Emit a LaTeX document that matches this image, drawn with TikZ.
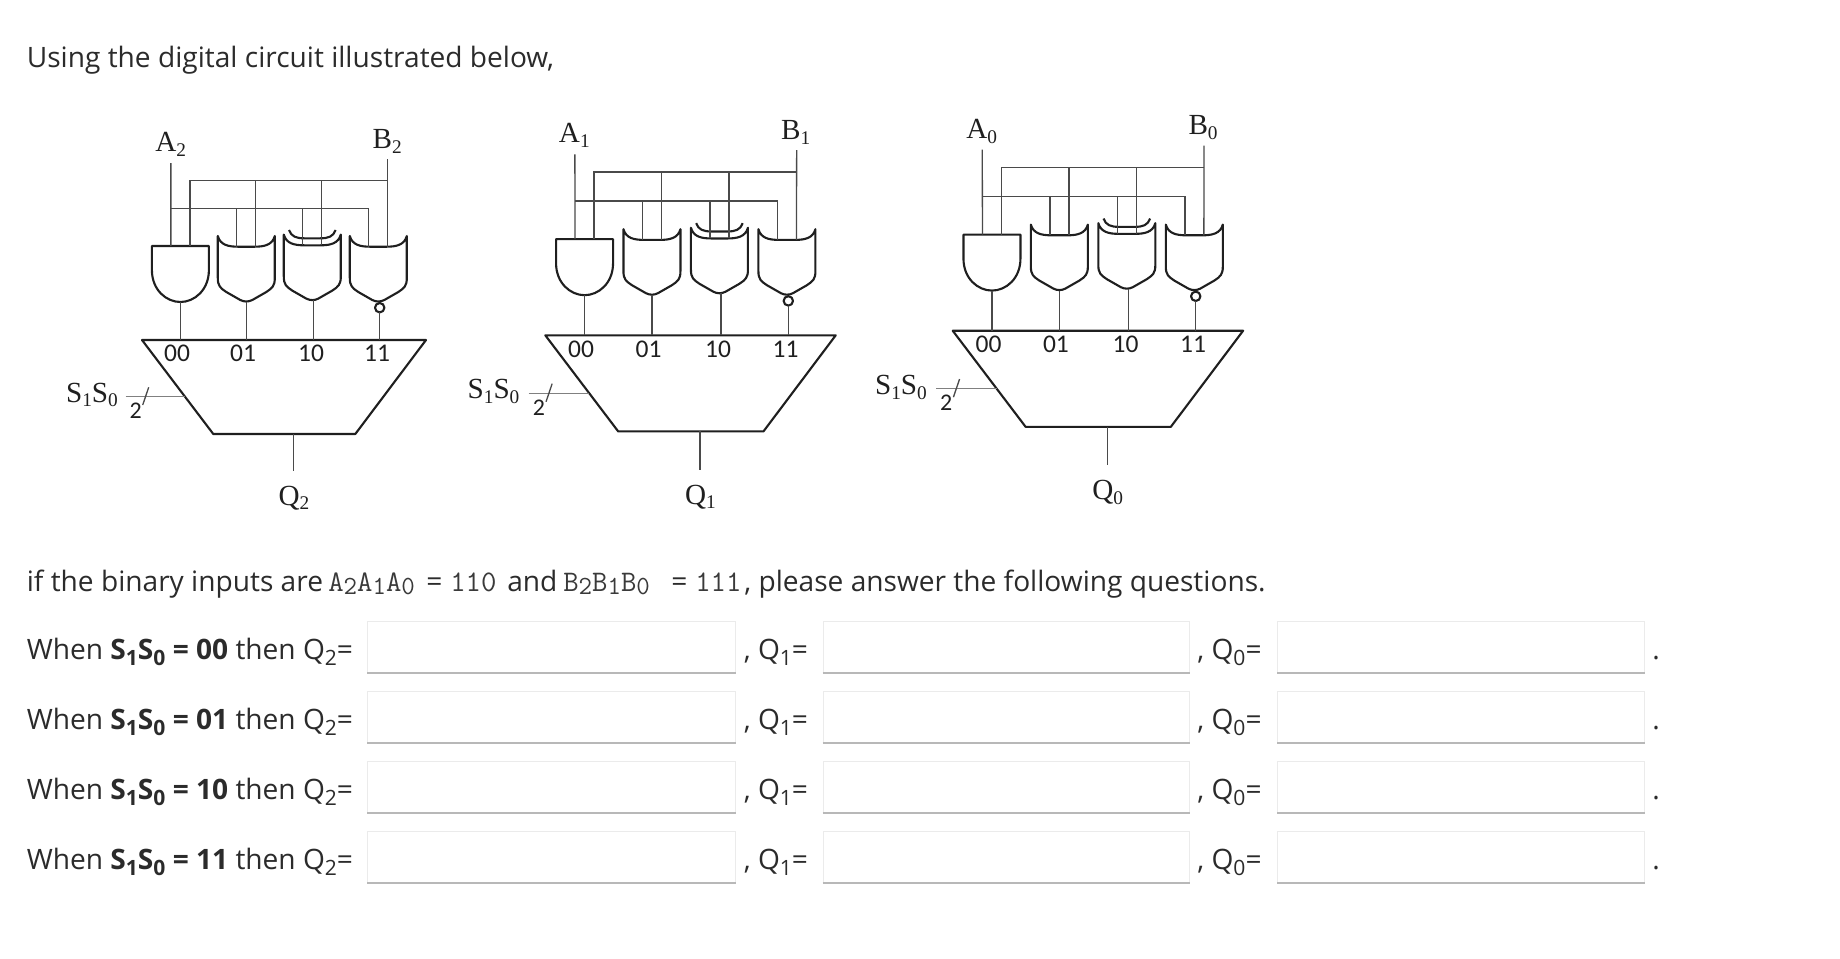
\documentclass[tikz,border=0pt]{standalone}
\usepackage{fontspec}
\setmainfont{Open Sans}
\newfontfamily\labelfont{Liberation Serif}
\newfontfamily\muxfont{Carlito}
\definecolor{inktext}{HTML}{2B2B2B}
\definecolor{wirecol}{HTML}{4A4A4A}
\definecolor{gatecol}{HTML}{1F1F1F}
\definecolor{monocol}{HTML}{3A3A3A}
\newcommand{\lo}[1]{\raisebox{-2.8pt}{\fontsize{11}{11}\selectfont #1}}
\newcommand{\lom}[1]{\raisebox{-2.2pt}{\fontsize{14.9}{15}\selectfont #1}}
\newcommand{\los}[1]{\raisebox{-0.45ex}{\fontsize{12}{12}\selectfont #1}}
\newcommand{\orbody}{
        \draw [gateline] (-28.5,-10) .. controls (-26,-1) and (-18,0.7) .. (-8,0.7) -- (8,0.7) .. controls (18,0.7) and (26,-1) .. (28.5,-10) -- (28.5,32) .. controls (28.5,40) and (26,42) .. (20,46) -- (6,54) .. controls (2,56) and (-2,56) .. (-6,54) -- (-20,46) .. controls (-26,42) and (-28.5,40) .. (-28.5,32) -- cycle;
        \coordinate (-ina) at (-9.5,0.7);
        \coordinate (-inb) at (9.5,0.7);
}
\tikzset{
        wire/.style = {draw=wirecol, line width=0.75pt},
        gateline/.style = {draw=gatecol, line width=1.2pt, line join=round},
        selwire/.style = {draw=gray, line width=0.8pt},
        sig/.style = {font=\labelfont\fontsize{16.6}{18}\selectfont, text=gatecol, inner sep=0pt, anchor=base west},
        sel/.style = {font=\muxfont\fontsize{14.5}{16}\selectfont, text=gatecol, inner sep=0pt, anchor=base},
        body/.style = {font=\fontsize{16}{20}\selectfont, text=inktext, inner sep=0pt, anchor=base west},
        mono/.style = {font=\ttfamily\fontsize{17}{18}\selectfont, text=monocol, inner sep=0pt, anchor=base west},
        ansbox/.style = {draw=black!8, fill=white, line width=0.6pt, anchor=north west, inner sep=0pt, minimum height=1.014cm},
        ansline/.style = {draw=black!28, line width=1pt},
        pics/andgate/.style = {code={
                \draw [gateline] (-28.5,0) -- (28.5,0) -- (28.5,24) .. controls (28.5,44) and (14,56) .. (0,56) .. controls (-14,56) and (-28.5,44) .. (-28.5,24) -- cycle;
                \coordinate (-ina) at (-9.5,0);
                \coordinate (-inb) at (9.5,0);
                \coordinate (-out) at (0,56);
        }},
        pics/orgate/.style = {code={
                \orbody
                \coordinate (-out) at (0,56);
        }},
        pics/xorgate/.style = {code={
                \orbody
                \draw [gateline] (-23.3,-14.6) .. controls (-21,-8) and (-16,-6.3) .. (-8,-6.3) -- (8,-6.3) .. controls (16,-6.3) and (21,-8) .. (23.3,-14.6);
                \coordinate (-out) at (1.4,55.4);
        }},
        pics/norgate/.style = {code={
                \orbody
                \draw [gateline] (1.4,61.7) circle [radius=4.7];
                \coordinate (-out) at (1.4,66.4);
        }}
}

\begin{document}
\begin{tikzpicture}[x=0.02cm, y=-0.02cm]

        \useasboundingbox (0,0) rectangle (1840,958);

        % Heading
        \node [body] (intro) at (26.5,67.5) {Using the digital circuit illustrated below,};

        % Circuits
        \foreach \cx/\cy/\cs/\bit in {142/340/1/2, 545.3/335.3/1.0225/1, 952.7/330.7/1.0225/0} {
        \begin{scope}[shift={(\cx,\cy)}, scale=\cs]

                % Gates
                \pic (gand) at (38.4,-94) {andgate};
                \pic (gor) at (104.3,-94) {orgate};
                \pic (gxor) at (170.3,-95.4) {xorgate};
                \pic (gnor) at (236.3,-94) {norgate};

                % Mux
                \coordinate (mtl) at (0,0);
                \coordinate (mtr) at (284,0);
                \coordinate (mbr) at (213.3,94);
                \coordinate (mbl) at (71.3,94);
                \draw [gateline] (mtl) -- (mtr) -- (mbr) -- (mbl) -- cycle;
                \node [sel] (s00) at (35,21.7) {00};
                \node [sel] (s01) at (101,21.7) {01};
                \node [sel] (s10) at (169,21.7) {10};
                \node [sel] (s11) at (235,21.7) {11};

                % Inputs
                \node [sig] (a) at (13,-188.3) {A\lo{\bit}};
                \node [sig] (b) at (230.3,-191.7) {B\lo{\bit}};
                \coordinate (atop) at (28.9,-177);
                \coordinate (btop) at (245.8,-181);
                \coordinate (abus) at (28.9,-131.3);
                \coordinate (bbus) at (245.8,-159.7);
                \draw [wire] (atop) -- (gand-ina);
                \draw [wire] (btop) -- (gnor-inb);
                \draw [wire] (abus) -| (gnor-ina);
                \draw [wire] (bbus) -| (gand-inb);
                \draw [wire] (gor-ina |- abus) -- (gor-ina);
                \draw [wire] (gor-inb |- bbus) -- (gor-inb);
                \draw [wire] (gxor-ina |- abus) -- (gxor-ina);
                \draw [wire] (gxor-inb |- bbus) -- (gxor-inb);

                % Gate outputs
                \draw [wire] (gand-out) -- (gand-out |- mtl);
                \draw [wire] (gor-out) -- (gor-out |- mtl);
                \draw [wire] (gxor-out) -- (gxor-out |- mtl);
                \draw [wire] (gnor-out) -- (gnor-out |- mtl);

                % Select
                \node [sig] (s) at (-76.3,62) {S\lo{1}S\lo{0}};
                \coordinate (selin) at (-16.3,56.7);
                \coordinate (selend) at (43,56.7);
                \coordinate (tickb) at (0.7,65);
                \coordinate (ticka) at (6.7,47.3);
                \draw [selwire] (selin) -- (selend);
                \draw [wire] (tickb) -- (ticka);
                \node [sel, font=\muxfont\fontsize{13.6}{16}\selectfont] (two) at (-6.3,78) {2};

                % Output
                \coordinate (qbus) at (151.3,94);
                \coordinate (qend) at (151.3,131.3);
                \draw [wire] (qbus) -- (qend);
                \node [sig] (q) at (136.3,165) {Q\lo{\bit}};
        \end{scope}
        }

        % Question
        \node [body] (ask) at (26.5,591) {if the binary inputs are};
        \node [mono] (avec) at (328,591) {A\lom{2}A\lom{1}A\lom{0}};
        \node [body] (aeq) at (426,591) {=};
        \node [mono] (aval) at (450,591) {110};
        \node [body] (and) at (507,591) {and};
        \node [mono] (bvec) at (563,591) {B\lom{2}B\lom{1}B\lom{0}};
        \node [body] (beq) at (671,591) {=};
        \node [mono] (bval) at (695,591) {111};
        \node [body] (rest) at (744,591) {, please answer the following questions.};

        % Answer rows
        \foreach \sval/\row in {00/0, 01/1, 10/2, 11/3} {
                \pgfmathsetmacro{\rowtop}{621+70*\row}
                \pgfmathsetmacro{\rowbase}{659+70*\row}
                \node [body] (when\row) at (26.5,\rowbase) {When \textbf{S\los{1}S\los{0} = \sval} then Q\los{2}=};
                \node [ansbox, minimum width=7.36cm] (ansa\row) at (367,\rowtop) {};
                \node [body] (qa\row) at (743.5,\rowbase) {, Q\los{1}=};
                \node [ansbox, minimum width=7.33cm] (ansb\row) at (822.7,\rowtop) {};
                \node [body] (qb\row) at (1197,\rowbase) {, Q\los{0}=};
                \node [ansbox, minimum width=7.33cm] (ansc\row) at (1277.4,\rowtop) {};
                \node [body] (dot\row) at (1652,\rowbase) {.};
                \draw [ansline] (ansa\row.south west) -- (ansa\row.south east);
                \draw [ansline] (ansb\row.south west) -- (ansb\row.south east);
                \draw [ansline] (ansc\row.south west) -- (ansc\row.south east);
        }

\end{tikzpicture}
\end{document}
